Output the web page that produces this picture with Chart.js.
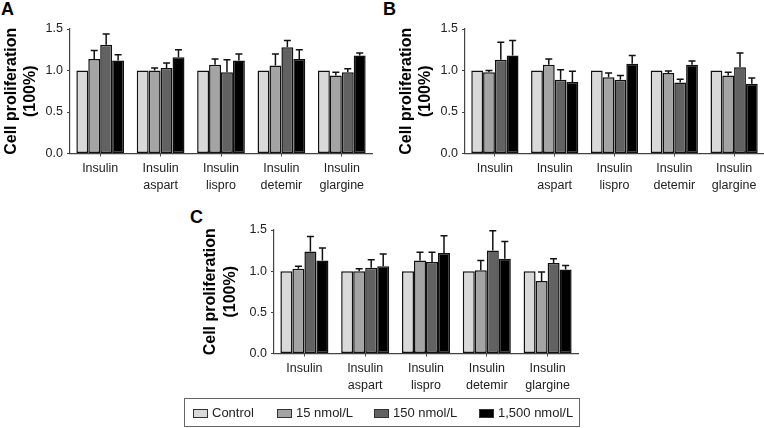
<!DOCTYPE html>
<html>
<head>
<meta charset="utf-8">
<script src="https://cdn.jsdelivr.net/npm/chart.js@4/dist/chart.umd.min.js"></script>
<style>
  body { margin: 0; background: #fff; width: 764px; height: 428px; position: relative; overflow: hidden; font-family: 'Liberation Sans', Arial, sans-serif; }
  canvas { position: absolute; }
  .letter { position: absolute; font-weight: bold; font-size: 18px; line-height: 18px; color: #000; }
  #legend { position: absolute; left: 184px; top: 398px; width: 394px; height: 27px; border: 1px solid #666; }
  .item { position: absolute; top: 0; height: 27px; line-height: 27px; font-size: 13px; color: #222; white-space: nowrap; }
  .sw { display: inline-block; width: 13px; height: 7px; border: 1px solid #333; margin-right: 4px; vertical-align: -1px; }
</style>
</head>
<body>
<div class="letter" style="left:1px;top:0px">A</div>
<div class="letter" style="left:383px;top:0px">B</div>
<div class="letter" style="left:190px;top:208px">C</div>
<canvas id="panelA" width="382" height="200" style="left:0;top:0"></canvas>
<canvas id="panelB" width="382" height="200" style="left:382px;top:0"></canvas>
<canvas id="panelC" width="400" height="200" style="left:190px;top:200px"></canvas>
<div id="legend"></div>
<script>
// categories and series
const groupLabels = [['Insulin'], ['Insulin', 'aspart'], ['Insulin', 'lispro'], ['Insulin', 'detemir'], ['Insulin', 'glargine']]
const seriesNames = ['Control', '15 nmol/L', '150 nmol/L', '1,500 nmol/L']
const yTicks = [0, 0.5, 1.0, 1.5]

// panel A: means and upper error (SD) per series
const aControl = [1, 1, 1, 1, 1]
const a15 = [1.14, 1.00, 1.07, 1.06, 0.94]
const a150 = [1.31, 1.03, 0.98, 1.28, 0.98]
const a1500 = [1.12, 1.16, 1.12, 1.14, 1.18]
const aErr15 = [0.10, 0.03, 0.07, 0.14, 0.04]
const aErr150 = [0.13, 0.06, 0.15, 0.08, 0.04]
const aErr1500 = [0.07, 0.09, 0.08, 0.11, 0.03]

// panel B
const bControl = [1, 1, 1, 1, 1]
const b15 = [0.98, 1.07, 0.92, 0.97, 0.94]
const b150 = [1.13, 0.89, 0.89, 0.855, 1.04]
const b1500 = [1.18, 0.86, 1.08, 1.07, 0.84]
const bErr15 = [0.02, 0.07, 0.05, 0.025, 0.04]
const bErr150 = [0.21, 0.12, 0.05, 0.04, 0.17]
const bErr1500 = [0.18, 0.13, 0.10, 0.045, 0.07]

// panel C
const cControl = [1, 1, 1, 1, 1]
const c15 = [1.03, 1.00, 1.13, 1.01, 0.88]
const c150 = [1.24, 1.04, 1.11, 1.25, 1.10]
const c1500 = [1.13, 1.06, 1.22, 1.15, 1.02]
const cErr15 = [0.03, 0.03, 0.10, 0.12, 0.11]
const cErr150 = [0.18, 0.10, 0.12, 0.24, 0.05]
const cErr1500 = [0.15, 0.15, 0.21, 0.21, 0.05]

const noErr = [0, 0, 0, 0, 0]
const colors = ['#d9d9d9', '#a4a4a4', '#626262', '#000000']

Chart.defaults.font.family = "'Liberation Sans', Arial, sans-serif"
Chart.defaults.color = '#222'

const errorBars = {
  id: 'errorBars',
  afterDatasetsDraw(chart) {
    const ctx = chart.ctx
    const y = chart.scales.y
    chart.data.datasets.forEach((ds, i) => {
      chart.getDatasetMeta(i).data.forEach((bar, j) => {
        const e = ds.errors[j]
        if (!e) return
        const top = y.getPixelForValue(ds.data[j] + e)
        ctx.save()
        ctx.strokeStyle = '#111'
        ctx.lineWidth = 1.5
        ctx.beginPath()
        ctx.moveTo(bar.x, bar.y)
        ctx.lineTo(bar.x, top)
        ctx.moveTo(bar.x - 3.5, top)
        ctx.lineTo(bar.x + 3.5, top)
        ctx.stroke()
        ctx.restore()
      })
    })
  }
}

function makePanel(id, means, errs, pad, yWidth) {
  new Chart(document.getElementById(id), {
    type: 'bar',
    data: {
      labels: groupLabels,
      datasets: means.map((m, i) => ({
        label: seriesNames[i],
        data: m,
        errors: errs[i],
        backgroundColor: colors[i],
        borderColor: '#111',
        borderWidth: 1.5,
        borderSkipped: false,
        categoryPercentage: 0.79,
        barPercentage: 1.0,
      })),
    },
    options: {
      responsive: false,
      animation: false,
      devicePixelRatio: 1,
      layout: { padding: pad },
      plugins: { legend: { display: false }, tooltip: { enabled: false } },
      scales: {
        x: {
          offset: true,
          grid: { offset: false, drawOnChartArea: false, tickLength: 3, color: '#444' },
          border: { color: '#444', width: 1.2 },
          ticks: { font: { size: 12.5, lineHeight: 1.4 }, padding: 3, maxRotation: 0, autoSkip: false, color: '#222' },
          afterFit: (s) => { s.height = 46.5 },
        },
        y: {
          min: 0,
          max: 1.5,
          afterBuildTicks: (s) => { s.ticks = yTicks.map((v) => ({ value: v })) },
          grid: { drawOnChartArea: false, tickLength: 3, color: '#444' },
          border: { color: '#444', width: 1.2 },
          ticks: { font: { size: 12.5 }, padding: 4, color: '#222', callback: (v) => v.toFixed(1) },
          title: { display: true, text: ['Cell proliferation', '(100%)'], font: { size: 16, weight: 'bold', lineHeight: 1.2 }, color: '#000', padding: { top: 2, bottom: 0 } },
          afterFit: (s) => { s.width = yWidth },
        },
      },
    },
    plugins: [errorBars],
  })
}

makePanel('panelA', [aControl, a15, a150, a1500], [noErr, aErr15, aErr150, aErr1500], { top: 29, left: 0, right: 10, bottom: 0 }, 70)
makePanel('panelB', [bControl, b15, b150, b1500], [noErr, bErr15, bErr150, bErr1500], { top: 29, left: 12.7, right: 0, bottom: 0 }, 70.3)
makePanel('panelC', [cControl, c15, c150, c1500], [noErr, cErr15, cErr150, cErr1500], { top: 30, left: 9.4, right: 12, bottom: 0 }, 74.6)

// legend
const legend = document.getElementById('legend')
const legendX = [8, 92, 189, 294]
seriesNames.forEach((name, i) => {
  const it = document.createElement('div')
  it.className = 'item'
  it.style.left = legendX[i] + 'px'
  it.innerHTML = '<span class="sw" style="background:' + colors[i] + '"></span>' + name
  legend.appendChild(it)
})
</script>
</body>
</html>
